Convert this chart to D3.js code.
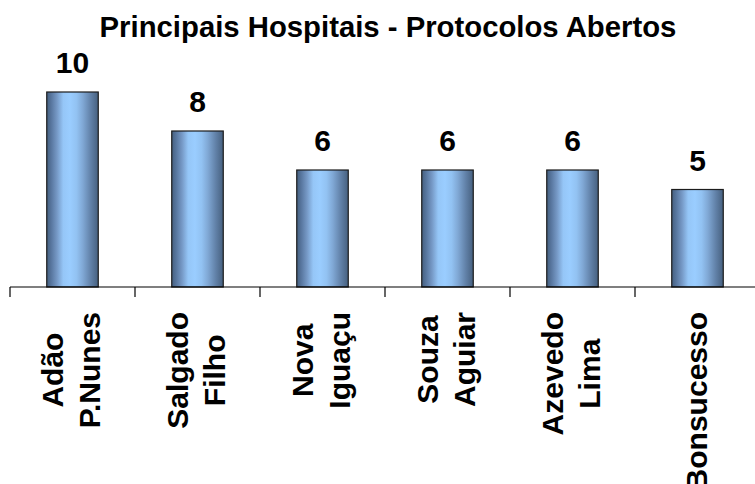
<!DOCTYPE html>
<html>
<head>
<meta charset="utf-8">
<script src="https://cdn.jsdelivr.net/npm/d3@7"></script>
<style>
  html, body { margin: 0; padding: 0; background: #fff; }
  svg { display: block; }
  text { font-family: Arial, "Liberation Sans", sans-serif; font-weight: bold; fill: #000; }
</style>
</head>
<body>
<svg id="chart" width="755" height="484"></svg>
<script>
// Open protocols per main hospital
const titleText = "Principais Hospitais - Protocolos Abertos";
const hospitals = [
  ["Adão", "P.Nunes"],
  ["Salgado", "Filho"],
  ["Nova", "Iguaçu"],
  ["Souza", "Aguiar"],
  ["Azevedo", "Lima"],
  ["Bonsucesso"]
];
const protocols = [10, 8, 6, 6, 6, 5];

const svg = d3.select("#chart");
const W = 755, H = 484;
const axisY = 287;

const x = d3.scaleBand()
  .domain(d3.range(hospitals.length))
  .range([10, 760])
  .paddingInner(0)
  .paddingOuter(0);

const y = d3.scaleLinear()
  .domain([0, 10])
  .range([axisY, 92]);

// Cylinder-like horizontal shading for the bars
const defs = svg.append("defs");
const grad = defs.append("linearGradient")
  .attr("id", "barShade")
  .attr("x1", "0%").attr("x2", "100%")
  .attr("y1", "0%").attr("y2", "0%");
[
  [0, "#46607f"],
  [0.08, "#56749c"],
  [0.2, "#7699c6"],
  [0.32, "#95c6f7"],
  [0.45, "#9acdff"],
  [0.58, "#92c2f2"],
  [0.7, "#80a8d5"],
  [0.85, "#6282a9"],
  [1, "#46607f"]
].forEach(([o, c]) => grad.append("stop").attr("offset", o).attr("stop-color", c));

// Title
svg.append("text")
  .attr("x", 388)
  .attr("y", 37)
  .attr("text-anchor", "middle")
  .style("font-size", "29.3px")
  .text(titleText);

// Bars
const barW = 51.5;
svg.selectAll("rect.bar")
  .data(protocols)
  .join("rect")
  .attr("class", "bar")
  .attr("x", (d, i) => x(i) + x.bandwidth() / 2 - barW / 2)
  .attr("y", d => y(d))
  .attr("width", barW)
  .attr("height", d => y(0) - y(d))
  .attr("fill", "url(#barShade)")
  .attr("stroke", "#1c1c1c")
  .attr("stroke-width", 1.2);

// Value labels
svg.selectAll("text.val")
  .data(protocols)
  .join("text")
  .attr("class", "val")
  .attr("x", (d, i) => x(i) + x.bandwidth() / 2)
  .attr("y", d => y(d) - 19)
  .attr("text-anchor", "middle")
  .style("font-size", "30px")
  .text(d => d);

// Category axis
const axis = d3.axisBottom(x)
  .tickSize(0)
  .tickFormat("");
const axisG = svg.append("g")
  .attr("transform", `translate(0,${axisY})`)
  .call(axis);
axisG.select(".domain").attr("stroke", "#000").attr("stroke-width", 1.2)
  .attr("d", `M10,0H${W}`);
axisG.selectAll(".tick").remove();

// Tick marks on the band boundaries
const bounds = d3.range(hospitals.length + 1).map(i => i < hospitals.length ? x(i) : x(i - 1) + x.bandwidth());
axisG.selectAll("line.bound")
  .data(bounds)
  .join("line")
  .attr("class", "bound")
  .attr("x1", d => d).attr("x2", d => d)
  .attr("y1", 0).attr("y2", 10)
  .attr("stroke", "#000")
  .attr("stroke-width", 1.2);

// Rotated, multi-line category labels (the last one runs past the bottom edge)
const labelTop = 312;
const lineGap = 37;
hospitals.forEach((lines, i) => {
  const cx = x(i) + x.bandwidth() / 2;
  const g = svg.append("g");
  const texts = lines.map((ln, j) => g.append("text")
    .attr("text-anchor", "middle")
    .attr("x", 0)
    .attr("y", (j - (lines.length - 1) / 2) * lineGap + 9)
    .style("font-size", "30px")
    .text(ln));
  const maxW = d3.max(texts, t => t.node().getComputedTextLength());
  g.attr("transform", `translate(${cx},${labelTop + maxW / 2}) rotate(-90)`);
});
</script>
</body>
</html>
